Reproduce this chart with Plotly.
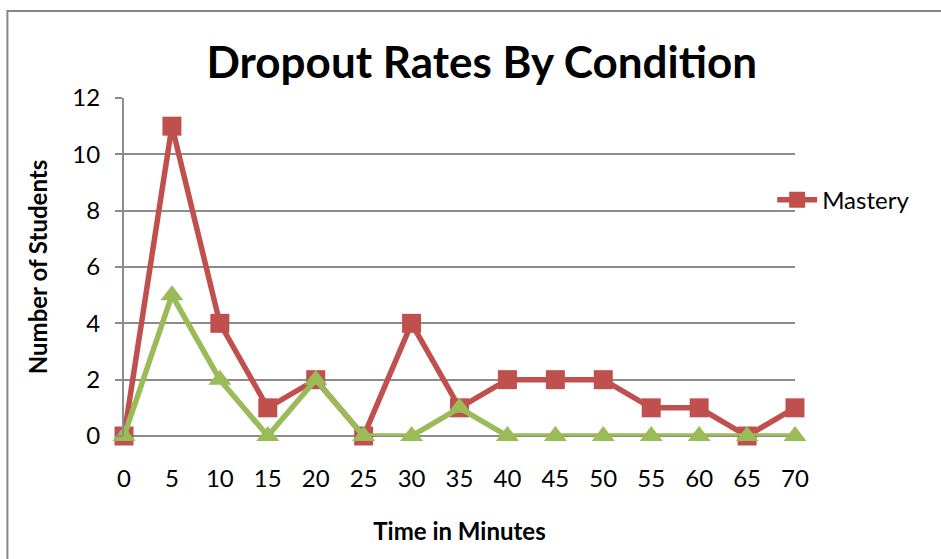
import plotly.graph_objects as go

minutes = [0, 5, 10, 15, 20, 25, 30, 35, 40, 45, 50, 55, 60, 65, 70]
mastery = [0, 11, 4, 1, 2, 0, 4, 1, 2, 2, 2, 1, 1, 0, 1]
other = [0, 5, 2, 0, 2, 0, 0, 1, 0, 0, 0, 0, 0, 0, 0]
y_ticks = [0, 2, 4, 6, 8, 10, 12]

RED = "#C0504D"
GREEN = "#9BBB59"
GRID = "#8C8C8C"
FONT = "Lato, Open Sans, sans-serif"

fig = go.Figure()
fig.add_trace(go.Scatter(
    x=minutes, y=mastery, name="Mastery", mode="lines+markers",
    line=dict(color=RED, width=5.5),
    marker=dict(symbol="square", size=19, color=RED),
    cliponaxis=False,
))
fig.add_trace(go.Scatter(
    x=minutes, y=other, name="Other", mode="lines+markers",
    line=dict(color=GREEN, width=5.5),
    marker=dict(symbol="triangle-up", size=20, color=GREEN),
    cliponaxis=False, showlegend=False,
))

fig.update_layout(
    width=941, height=559,
    margin=dict(l=124, r=146, t=98, b=123),
    paper_bgcolor="white", plot_bgcolor="white",
    font=dict(family=FONT, size=24, color="black"),
    title=dict(text="<b>Dropout Rates By Condition</b>", x=0.512, xanchor="center",
               y=1 - 63 / 559, yanchor="middle",
               font=dict(family=FONT, size=44, color="black")),
    showlegend=True,
    legend=dict(x=0.966, xanchor="left", y=0.698, yanchor="middle",
                font=dict(family=FONT, size=24), bgcolor="rgba(0,0,0,0)",
                itemwidth=40),
    shapes=[dict(type="rect", xref="paper", yref="paper",
                 x0=-116.5 / 670.5, x1=(941 + 10 - 124.5) / 670.5,
                 y0=(436 - 570) / 338, y1=(436 - 11) / 338,
                 line=dict(color="#868686", width=2), layer="below")],
)

fig.update_xaxes(
    range=[0, 70], tickmode="array", tickvals=minutes,
    ticktext=[str(m) for m in minutes], showgrid=False, zeroline=False,
    showline=False, ticks="", ticklabelstandoff=26,
    title=dict(text="<b>Time in Minutes</b>", font=dict(family=FONT, size=24), standoff=32),
)
fig.update_yaxes(
    range=[0, 12], tickmode="array", tickvals=y_ticks,
    showgrid=True, gridcolor=GRID, gridwidth=1.5,
    zeroline=True, zerolinecolor=GRID, zerolinewidth=1.5,
    showline=True, linecolor=GRID, linewidth=2,
    ticks="outside", ticklen=7, tickcolor=GRID, tickwidth=1.5,
    ticklabelstandoff=10,
    title=dict(text="<b>Number of Students</b>", font=dict(family=FONT, size=24), standoff=18),
)

fig.write_html("out.html", config={"displayModeBar": False},
               post_script="document.body.style.margin='0';document.body.style.overflow='hidden';")
